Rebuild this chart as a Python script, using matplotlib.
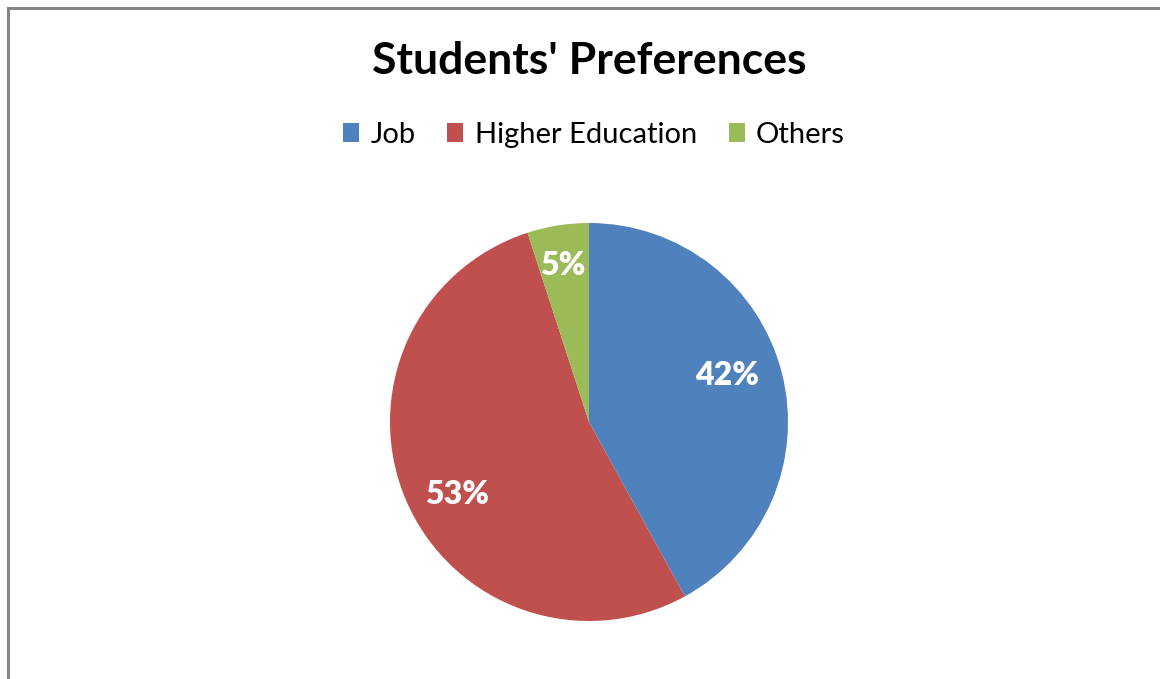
import matplotlib
matplotlib.use("Agg")
import matplotlib.pyplot as plt
from matplotlib.patches import Rectangle

categories = ["Job", "Higher Education", "Others"]
values = [42, 53, 5]
colors = ["#4F81BD", "#C0504D", "#9BBB59"]
title = "Students' Preferences"
# small nudges of the percentage labels (pie radius units)
label_nudge = [(-0.035, 0.045), (0.025, -0.065), (-0.015, 0.045)]

W, H = 1160, 679
fig = plt.figure(figsize=(W / 100, H / 100), dpi=100)
fig.patch.set_facecolor("white")

# frame (left and top visible)
fig.add_artist(Rectangle((7.5 / W, -0.1), 2, 1.1 - 8.5 / H,
                         transform=fig.transFigure, fill=False,
                         edgecolor="#868686", linewidth=2.2))

cx, cy, r = 589, 422, 199
ax = fig.add_axes([(cx - r) / W, (H - cy - r) / H, 2 * r / W, 2 * r / H])
wedges, texts, autotexts = ax.pie(values, colors=colors, startangle=90, counterclock=False,
                                  radius=1, autopct="%1.0f%%", pctdistance=0.75,
                                  wedgeprops=dict(linewidth=0),
                                  textprops=dict(color="white", fontsize=23, fontweight="heavy",
                                                 family=["Lato", "DejaVu Sans"]))
for t, (dx, dy) in zip(autotexts, label_nudge):
    x, y = t.get_position()
    t.set_position((x + dx, y + dy))
ax.set_xlim(-1, 1)
ax.set_ylim(-1, 1)
ax.set_aspect("equal")
ax.axis("off")

fig.text(589 / W, 1 - 61 / H, title, ha="center", va="center", fontsize=32,
         fontweight="bold", family=["Lato", "DejaVu Sans"])

leg = fig.legend(wedges, categories, loc="center", bbox_to_anchor=(594 / W, 1 - 135 / H),
                 ncol=3, frameon=False, handlelength=0.55, handleheight=0.6,
                 handletextpad=0.38, columnspacing=1.1, borderpad=0,
                 prop=dict(family=["Lato", "DejaVu Sans"], size=21))

fig.savefig("out.png", dpi=100, facecolor="white")
